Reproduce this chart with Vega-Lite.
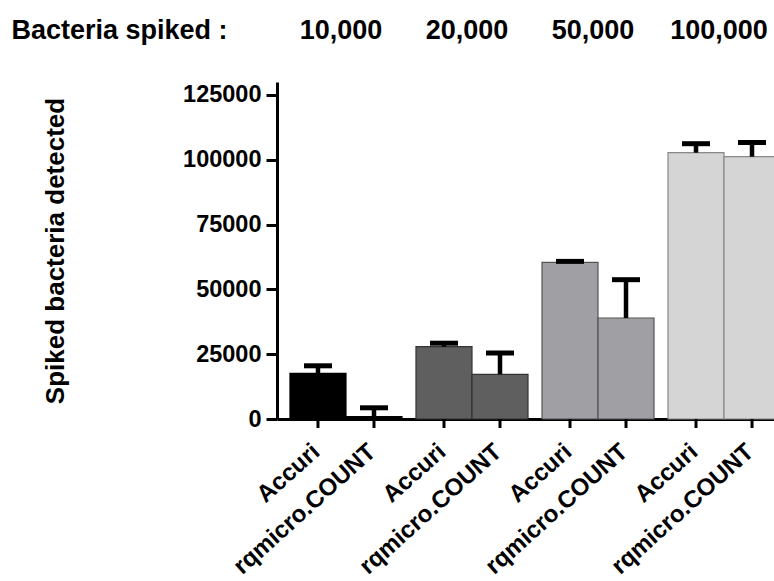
{
  "$schema": "https://vega.github.io/schema/vega-lite/v6.json",
  "width": 497,
  "height": 337,
  "autosize": {"type": "none"},
  "padding": {"left": 277, "top": 82, "right": 0, "bottom": 162},
  "background": "white",
  "config": {"view": {"stroke": null}, "font": "Liberation Sans"},
  "data": {
    "values": [
      {"group": "10,000", "instrument": "Accuri", "mean": 17630, "upper": 20520},
      {"group": "10,000", "instrument": "rqmicro.COUNT", "mean": 890, "upper": 4320},
      {"group": "20,000", "instrument": "Accuri", "mean": 27890, "upper": 29240},
      {"group": "20,000", "instrument": "rqmicro.COUNT", "mean": 17240, "upper": 25460},
      {"group": "50,000", "instrument": "Accuri", "mean": 60450, "upper": 60800},
      {"group": "50,000", "instrument": "rqmicro.COUNT", "mean": 38960, "upper": 53740},
      {"group": "100,000", "instrument": "Accuri", "mean": 102730, "upper": 106200},
      {"group": "100,000", "instrument": "rqmicro.COUNT", "mean": 101190, "upper": 106660}
    ]
  },
  "resolve": {"axis": {"x": "independent"}},
  "layer": [
    {
      "mark": {"type": "bar", "strokeWidth": 1.2},
      "encoding": {
        "x": {
          "field": "group", "type": "nominal", "sort": null,
          "scale": {"range": [0, 516], "paddingInner": 0.111, "paddingOuter": 0.103},
          "axis": {"orient": "bottom", "labels": false, "ticks": false, "domain": true, "domainColor": "black", "domainWidth": 3, "title": null, "grid": false}
        },
        "xOffset": {"field": "instrument", "type": "nominal", "scale": {"paddingInner": 0, "paddingOuter": 0}},
        "y": {
          "field": "mean", "type": "quantitative",
          "scale": {"domain": [0, 130000], "nice": false, "zero": true},
          "title": "Spiked bacteria detected",
          "axis": {
            "values": [0, 25000, 50000, 75000, 100000, 125000],
            "format": "d",
            "grid": false,
            "labelFontSize": 23.5, "labelFontWeight": "bold", "labelColor": "black", "labelPadding": 5,
            "tickSize": 11, "tickWidth": 3, "tickColor": "black",
            "domainWidth": 3, "domainColor": "black",
            "title": "Spiked bacteria detected",
            "titleFontSize": 26, "titleFontWeight": "bold", "titleColor": "black",
            "titleAngle": -90, "titleAlign": "center", "titleBaseline": "alphabetic",
            "titleX": -214, "titleY": 168.5
          }
        },
        "fill": {
          "field": "group", "type": "nominal",
          "scale": {"domain": ["10,000", "20,000", "50,000", "100,000"], "range": ["#000000", "#5f5f5f", "#a09fa4", "#d5d5d5"]},
          "legend": null
        },
        "stroke": {
          "field": "group", "type": "nominal",
          "scale": {"domain": ["10,000", "20,000", "50,000", "100,000"], "range": ["#000000", "#333333", "#555555", "#888888"]},
          "legend": null
        }
      }
    },
    {
      "mark": {"type": "rule", "strokeWidth": 4.5, "color": "black"},
      "encoding": {
        "x": {"field": "group", "type": "nominal", "sort": null, "axis": null},
        "xOffset": {"field": "instrument", "type": "nominal"},
        "y": {"field": "mean", "type": "quantitative", "title": "Spiked bacteria detected"},
        "y2": {"field": "upper"}
      }
    },
    {
      "mark": {"type": "tick", "size": 28, "thickness": 5, "color": "black", "opacity": 1},
      "encoding": {
        "x": {
          "field": "group", "type": "nominal", "sort": null,
          "axis": {
            "orient": "top", "domain": false, "ticks": false, "tickSize": 0, "grid": false,
            "labelAngle": 0, "labelFontSize": 27, "labelFontWeight": "bold", "labelColor": "black",
            "labelBaseline": "alphabetic", "labelPadding": 44, "labelOffset": -5,
            "title": "Bacteria spiked :", "titleFontSize": 27, "titleFontWeight": "bold", "titleColor": "black",
            "titleAlign": "left", "titleBaseline": "alphabetic", "titleX": -266, "titleY": -44
          }
        },
        "xOffset": {"field": "instrument", "type": "nominal"},
        "y": {"field": "upper", "type": "quantitative", "title": "Spiked bacteria detected"}
      }
    },
    {
      "mark": {"type": "tick", "orient": "vertical", "size": 9, "thickness": 3, "color": "black", "opacity": 1, "yOffset": 4.5},
      "encoding": {
        "x": {"field": "group", "type": "nominal", "sort": null, "axis": null},
        "xOffset": {"field": "instrument", "type": "nominal"},
        "y": {"datum": 0, "type": "quantitative", "title": "Spiked bacteria detected"}
      }
    },
    {
      "mark": {"type": "text", "angle": 318, "align": "right", "baseline": "middle", "dx": -21, "dy": 21, "fontSize": 24, "fontWeight": "bold", "color": "black"},
      "encoding": {
        "x": {"field": "group", "type": "nominal", "sort": null, "axis": null},
        "xOffset": {"field": "instrument", "type": "nominal"},
        "y": {"datum": 0, "type": "quantitative", "title": "Spiked bacteria detected"},
        "text": {"field": "instrument"}
      }
    }
  ]
}
